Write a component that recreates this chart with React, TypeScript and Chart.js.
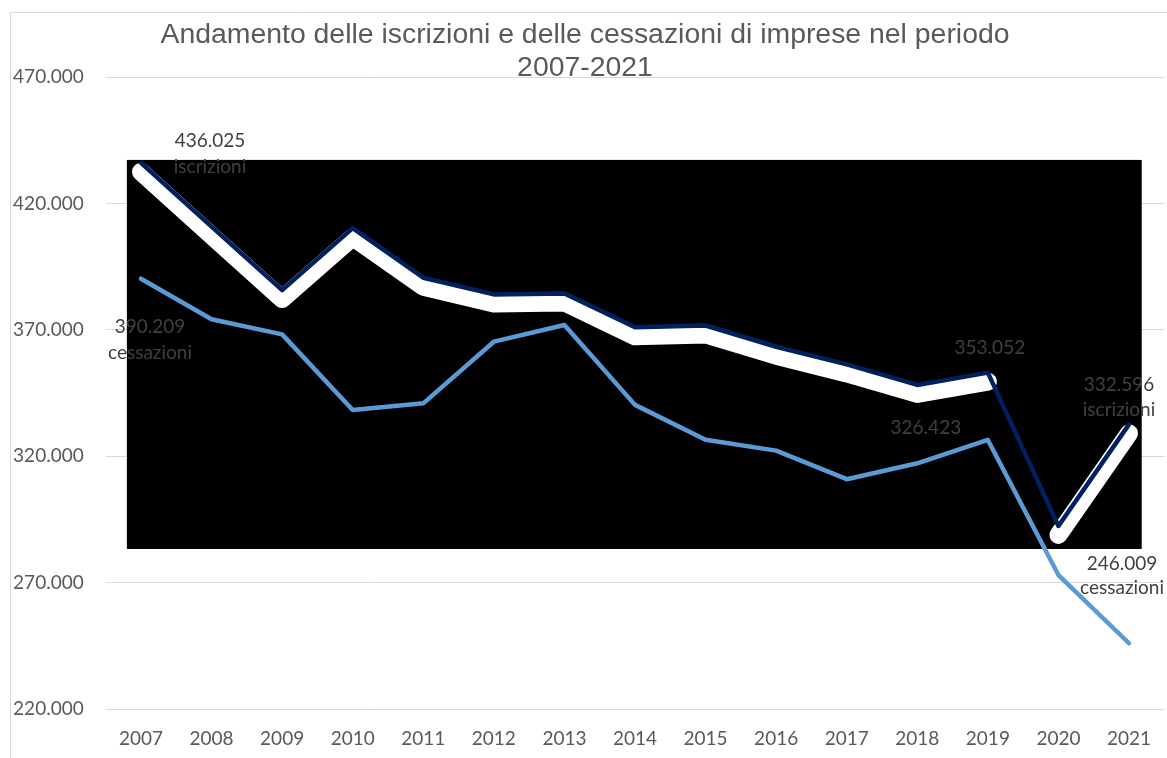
import React, { useEffect, useRef } from "react";
import { Chart, registerables } from "chart.js";

Chart.register(...registerables);

const years = ["2007", "2008", "2009", "2010", "2011", "2012", "2013", "2014", "2015", "2016", "2017", "2018", "2019", "2020", "2021"];
const iscrizioni = [436025, 410800, 385700, 410200, 390600, 384000, 384400, 371000, 371700, 363300, 356300, 348200, 353052, 292400, 332596];
const cessazioni = [390209, 374200, 368200, 338300, 340900, 365300, 371900, 340300, 326500, 322200, 310900, 317200, 326423, 273000, 246009];
const titleLines = ["Andamento delle iscrizioni e delle cessazioni di imprese nel periodo", "2007-2021"];
const yTicks = [220000, 270000, 320000, 370000, 420000, 470000];

const fmt = (v: number) => Math.round(v).toString().replace(/\B(?=(\d{3})+(?!\d))/g, ".");

const LABEL_FONT = '19px Lato, "Open Sans", sans-serif';

// data labels: series 0 = iscrizioni, 1 = cessazioni
const dataLabels = [
  { series: 0, index: 0, suffix: "iscrizioni", dx: 69, dy: [-16, 10] },
  { series: 1, index: 0, suffix: "cessazioni", dx: 9, dy: [54, 80] },
  { series: 0, index: 12, suffix: "", dx: 2, dy: [-19] },
  { series: 1, index: 12, suffix: "", dx: -62, dy: [-6] },
  { series: 0, index: 14, suffix: "iscrizioni", dx: -10, dy: [-33, -8] },
  { series: 1, index: 14, suffix: "cessazioni", dx: -7, dy: [-73, -49] },
];

const overlayPlugin = {
  id: "overlay",
  beforeDraw(chart: any) {
    const ctx = chart.ctx;
    ctx.save();
    ctx.fillStyle = "#ffffff";
    ctx.fillRect(0, 0, chart.width, chart.height);
    ctx.strokeStyle = "#d9d9d9";
    ctx.lineWidth = 1;
    ctx.beginPath();
    ctx.moveTo(10.5, chart.height);
    ctx.lineTo(10.5, 12.5);
    ctx.lineTo(chart.width, 12.5);
    ctx.stroke();
    ctx.fillStyle = "#595959";
    ctx.font = '28.4px "Liberation Sans", Arial, sans-serif';
    ctx.textAlign = "center";
    ctx.textBaseline = "alphabetic";
    ctx.fillText(titleLines[0], 585, 43);
    ctx.fillText(titleLines[1], 585, 76);
    ctx.restore();
  },
  beforeDatasetsDraw(chart: any) {
    const ctx = chart.ctx;
    const x = chart.scales.x;
    const y = chart.scales.y;
    const x0 = x.getPixelForValue(-0.2);
    const x1 = x.getPixelForValue(14.18);
    const y0 = y.getPixelForValue(437200);
    const y1 = y.getPixelForValue(283300);
    ctx.save();
    ctx.fillStyle = "#000000";
    ctx.fillRect(x0, y0, x1 - x0, y1 - y0);
    ctx.restore();
  },
  beforeDatasetDraw(chart: any, args: any) {
    const ds = chart.data.datasets[args.index];
    if (ds.shadow) {
      chart.ctx.save();
      chart.ctx.translate(0, 9);
    }
  },
  afterDatasetDraw(chart: any, args: any) {
    const ds = chart.data.datasets[args.index];
    if (ds.shadow) chart.ctx.restore();
  },
  afterDatasetsDraw(chart: any) {
    const ctx = chart.ctx;
    const x = chart.scales.x;
    const y = chart.scales.y;
    const series = [iscrizioni, cessazioni];
    ctx.save();
    ctx.font = LABEL_FONT;
    ctx.fillStyle = "#404040";
    ctx.textAlign = "center";
    ctx.textBaseline = "alphabetic";
    for (const l of dataLabels) {
      const v = series[l.series][l.index];
      const px = x.getPixelForValue(l.index);
      const py = y.getPixelForValue(v);
      const lines = l.suffix ? [fmt(v), l.suffix] : [fmt(v)];
      lines.forEach((t, i) => ctx.fillText(t, px + l.dx, py + l.dy[i]));
    }
    ctx.restore();
  },
};

export default function App() {
  const ref = useRef<HTMLCanvasElement | null>(null);
  useEffect(() => {
    if (!ref.current) return;
    const chart = new Chart(ref.current, {
      type: "line",
      data: {
        labels: years,
        datasets: [
          {
            label: "iscrizioni",
            data: iscrizioni,
            borderColor: "#002060",
            borderWidth: 4.5,
            pointRadius: 0,
            tension: 0,
            borderCapStyle: "round",
            borderJoinStyle: "round",
            order: 1,
          },
          {
            label: "cessazioni",
            data: cessazioni,
            borderColor: "#5B9BD5",
            borderWidth: 4.5,
            pointRadius: 0,
            tension: 0,
            borderCapStyle: "round",
            borderJoinStyle: "round",
            order: 2,
          },
          {
            label: "shadow1",
            data: iscrizioni.map((v, i) => (i <= 12 ? v : null)),
            borderColor: "#ffffff",
            borderWidth: 18,
            pointRadius: 0,
            tension: 0,
            borderCapStyle: "round",
            borderJoinStyle: "round",
            spanGaps: false,
            clip: false,
            order: 3,
            shadow: true,
          } as any,
          {
            label: "shadow2",
            data: iscrizioni.map((v, i) => (i >= 13 ? v : null)),
            borderColor: "#ffffff",
            borderWidth: 18,
            pointRadius: 0,
            tension: 0,
            borderCapStyle: "round",
            borderJoinStyle: "round",
            spanGaps: false,
            clip: false,
            order: 4,
            shadow: true,
          } as any,
        ],
      },
      options: {
        responsive: false,
        animation: false,
        devicePixelRatio: 1,
        layout: { padding: { top: 77, right: 2.7, left: 0, bottom: 0 } },
        plugins: {
          legend: { display: false },
          title: { display: false },
          tooltip: { enabled: false },
        },
        scales: {
          x: {
            offset: true,
            grid: { display: false },
            border: { display: false },
            ticks: {
              color: "#595959",
              font: { family: 'Lato, "Open Sans", sans-serif', size: 19 },
              padding: 10,
              maxRotation: 0,
              autoSkip: false,
            },
            afterFit: (s: any) => {
              s.height = 49;
            },
          },
          y: {
            min: 220000,
            max: 470000,
            afterBuildTicks: (s: any) => {
              s.ticks = yTicks.map((v) => ({ value: v }));
            },
            grid: { color: "#d9d9d9", lineWidth: 1, drawTicks: false },
            border: { display: false },
            ticks: {
              color: "#595959",
              font: { family: 'Lato, "Open Sans", sans-serif', size: 19 },
              padding: 22,
              callback: (v: any) => fmt(Number(v)),
            },
            afterFit: (s: any) => {
              s.width = 105.7;
            },
          },
        },
      },
      plugins: [overlayPlugin],
    });
    return () => chart.destroy();
  }, []);
  return (
    <div style={{ position: "fixed", left: 0, top: 0, width: 1167, height: 758 }}>
      <canvas ref={ref} width={1167} height={758} style={{ display: "block" }} />
    </div>
  );
}
